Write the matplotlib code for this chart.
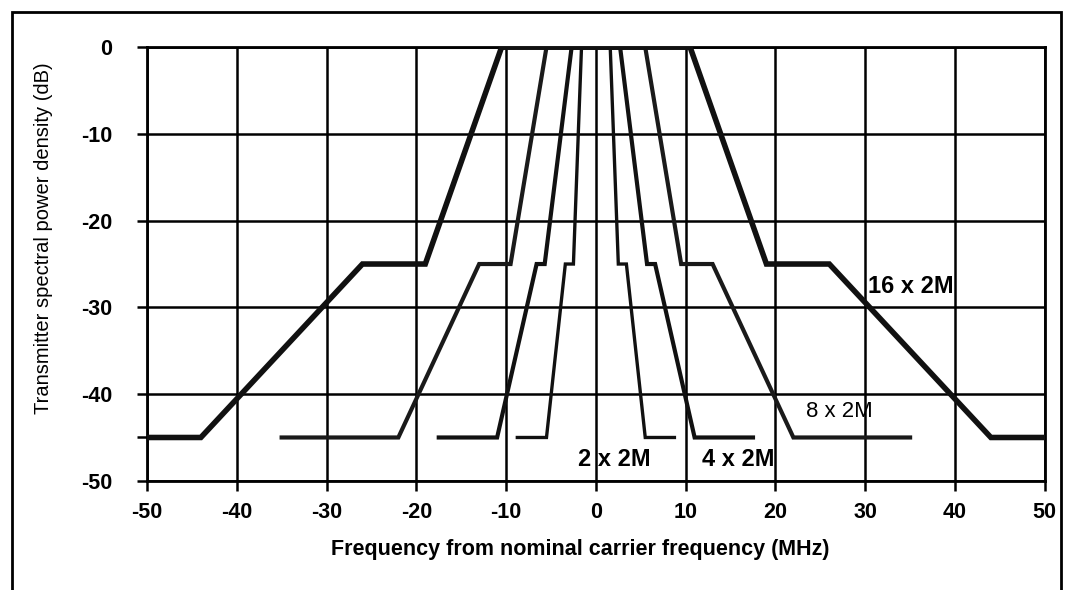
import numpy as np
import matplotlib
matplotlib.use("Agg")
import matplotlib.pyplot as plt
from matplotlib.patches import Rectangle

plt.rcParams["font.family"] = ["Liberation Sans", "DejaVu Sans"]
plt.rcParams["axes.unicode_minus"] = False

# spectral masks: frequency offset (MHz) vs relative density (dB)
f_16 = [-50, -44, -26, -19, -10.5, 10.5, 19, 26, 44, 50]
p_16 = [-45, -45, -25, -25, 0, 0, -25, -25, -45, -45]

f_8 = [-35, -22, -13, -9.5, -5.5, 5.5, 9.5, 13, 22, 35]
p_8 = [-45, -45, -25, -25, 0, 0, -25, -25, -45, -45]

f_4 = [-17.5, -11, -6.6, -5.7, -2.7, 2.7, 5.7, 6.6, 11, 17.5]
p_4 = [-45, -45, -25, -25, 0, 0, -25, -25, -45, -45]

f_2 = [-8.75, -5.5, -3.4, -2.5, -1.6, 1.6, 2.5, 3.4, 5.5, 8.75]
p_2 = [-45, -45, -25, -25, 0, 0, -25, -25, -45, -45]

x_ticks = [-50, -40, -30, -20, -10, 0, 10, 20, 30, 40, 50]
y_ticks = [0, -10, -20, -30, -40, -50]

fig = plt.figure(figsize=(10.65, 5.9), dpi=100)
ax = fig.add_axes([0.138, 0.185, 0.843, 0.735])

ax.plot(f_16, p_16, color="#111111", lw=4.0, solid_joinstyle="miter", zorder=5)
ax.plot(f_8, p_8, color="#1a1a1a", lw=3.0, solid_joinstyle="miter", zorder=4)
ax.plot(f_4, p_4, color="#111111", lw=3.0, solid_joinstyle="miter", zorder=4)
ax.plot(f_2, p_2, color="#111111", lw=2.4, solid_joinstyle="miter", zorder=4)

ax.set_xlim(-50, 50)
ax.set_ylim(-50, 0)
ax.set_xticks(x_ticks)
ax.set_yticks(y_ticks)
ax.set_yticks([-45], minor=True)
ax.grid(True, which="major", color="black", lw=1.8)
ax.set_axisbelow(True)
for s in ax.spines.values():
    s.set_linewidth(2.0)
    s.set_color("black")
ax.tick_params(axis="both", which="major", direction="out", length=7, width=1.8,
               labelsize=15.5)
ax.tick_params(axis="y", which="minor", direction="out", length=7, width=1.8)
for lab in ax.get_xticklabels() + ax.get_yticklabels():
    lab.set_fontweight("bold")
ax.tick_params(axis="y", pad=18)
ax.tick_params(axis="x", pad=8)

ax.set_xlabel("Frequency from nominal carrier frequency (MHz)", fontsize=15.5,
              fontweight="bold")
ax.xaxis.set_label_coords(0.483, -0.159)
ax.xaxis.label.set_va("center")
ax.set_ylabel("Transmitter spectral power density (dB)", fontsize=14.5)
ax.yaxis.set_label_coords(-0.115, 0.56)
ax.yaxis.label.set_va("center")

ax.text(30.3, -27.6, "16 x 2M", fontsize=17, fontweight="bold", va="center", ha="left", zorder=6)
ax.text(23.4, -42.0, "8 x 2M", fontsize=16, va="center", ha="left", zorder=6)
ax.text(-2.0, -47.5, "2 x 2M", fontsize=17, fontweight="bold", va="center", ha="left", zorder=6)
ax.text(11.8, -47.5, "4 x 2M", fontsize=17, fontweight="bold", va="center", ha="left", zorder=6)

fig.patches.append(Rectangle((0.011, -0.02), 0.985, 1.0, transform=fig.transFigure,
                             fill=False, edgecolor="black", lw=2.0))

fig.savefig("out.png", dpi=100)
